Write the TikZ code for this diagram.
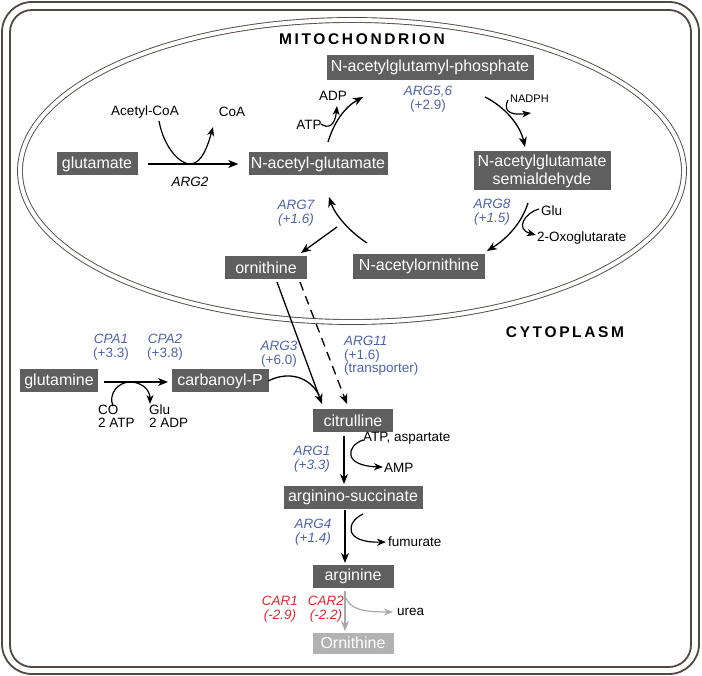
\documentclass[tikz,border=0pt]{standalone}
\usepackage{fontspec}
\setmainfont{Liberation Sans}
\usetikzlibrary{arrows.meta}
\definecolor{boxg}{HTML}{5F5F5F}
\definecolor{boxl}{HTML}{B2B2B2}
\definecolor{eblue}{HTML}{4D62AE}
\definecolor{ered}{HTML}{E5262F}
\definecolor{framec}{HTML}{524743}
\definecolor{lgray}{HTML}{A8A8A8}
\begin{document}
\begin{tikzpicture}[x=1pt,y=-1pt,
  box/.style={fill=boxg,text=white,font=\fontsize{16}{18}\selectfont,inner sep=0pt,minimum height=23,align=center},
  lbl/.style={font=\fontsize{13.5}{13}\selectfont,inner sep=0pt},
  enz/.style={font=\fontsize{13.5}{13.5}\selectfont,text=eblue,inner sep=0pt,align=center},
  renz/.style={font=\fontsize{13.5}{13.5}\selectfont\itshape,text=ered,inner sep=0pt,align=center},
  title/.style={font=\fontsize{15.5}{16}\selectfont\bfseries\addfontfeature{LetterSpace=17},inner sep=0pt},
  arr/.style={line width=1.3pt,-{Stealth[length=10pt,width=8pt,inset=3pt]}},
  sarr/.style={line width=1.2pt,-{Stealth[length=9pt,width=7pt,inset=2.7pt]}},
  memb/.style={draw=framec,line width=0.9pt},
]
\useasboundingbox (0,0) rectangle (702,676);
% cell frame
\draw[framec,line width=1.8pt,rounded corners=30] (2,2) rectangle (699,674);
\draw[framec,line width=1.8pt,rounded corners=22] (10,10) rectangle (691,667);
% mitochondrion
\draw[memb,double=white,double distance=4pt] (352,171) ellipse [x radius=332,y radius=151];

\node[title] (mito) at (362,39) {MITOCHONDRION};
\node[title] (cyto) at (565,332) {CYTOPLASM};

% boxes
\node[box,minimum width=207,minimum height=25] (nagp) at (430,67.5) {N-acetylglutamyl-phosphate};
\node[box,minimum width=81] (glu) at (97,164) {glutamate};
\node[box,minimum width=139] (nag) at (318,164) {N-acetyl-glutamate};
\node[box,minimum width=137,minimum height=39] (semi) at (542,171) {N-acetylglutamate\\semialdehyde};
\node[box,minimum width=132,minimum height=25] (naorn) at (419,266.5) {N-acetylornithine};
\node[box,minimum width=82] (orn) at (266,268) {ornithine};
\node[box,minimum width=78] (gln) at (59,381) {glutamine};
\node[box,minimum width=97] (cbp) at (220,381) {carbanoyl-P};
\node[box,minimum width=80] (cit) at (353,421) {citrulline};
\node[box,minimum width=139] (asuc) at (353,497) {arginino-succinate};
\node[box,minimum width=81] (arg) at (353,576) {arginine};
\node[box,fill=boxl,minimum width=81,minimum height=21] (orn2) at (353,643) {Ornithine};

% small labels
\node[lbl] (acoa) at (145,112) {Acetyl-CoA};
\node[lbl] (coa) at (232,112) {CoA};
\node[lbl,font=\fontsize{13.5}{13}\selectfont\itshape] (arg2) at (190,182) {ARG2};
\node[lbl] (atp1) at (309,125) {ATP};
\node[lbl] (adp1) at (333,96) {ADP};
\node[enz] (e56) at (428,99) {\textit{ARG5,6}\\(+2.9)};
\node[lbl,font=\fontsize{11}{11}\selectfont,anchor=west] (nadph) at (510,99) {NADPH};
\node[enz,font=\fontsize{13.5}{13.5}\selectfont\itshape] (e8) at (492,212) {ARG8\\(+1.5)};
\node[lbl,anchor=west] (glu2) at (541,211) {Glu};
\node[lbl,anchor=west] (oxo) at (537,238) {2-Oxoglutarate};
\node[enz,font=\fontsize{13.5}{13.5}\selectfont\itshape] (e7) at (296,213) {ARG7\\(+1.6)};
\node[enz] (cpa1) at (111,347) {\textit{CPA1}\\(+3.3)};
\node[enz] (cpa2) at (165,347) {\textit{CPA2}\\(+3.8)};
\node[enz] (e3) at (279,354) {\textit{ARG3}\\(+6.0)};
\node[enz,align=left,anchor=west] (e11) at (344,356) {\textit{ARG11}\\(+1.6)\\(transporter)};
\node[lbl,align=left,anchor=west] (co) at (98,416) {CO\\2 ATP};
\node[lbl,align=left,anchor=west] (glu3) at (149,416) {Glu\\2 ADP};
\node[lbl,anchor=west] (atpasp) at (363,438) {ATP, aspartate};
\node[lbl,anchor=west] (amp) at (384,468) {AMP};
\node[enz,font=\fontsize{13.5}{13.5}\selectfont\itshape] (e1) at (312,459) {ARG1\\(+3.3)};
\node[enz,font=\fontsize{13.5}{13.5}\selectfont\itshape] (e4) at (313,532) {ARG4\\(+1.4)};
\node[lbl,anchor=west] (fum) at (388,542) {fumurate};
\node[renz] (car1) at (280,609) {CAR1\\(-2.9)};
\node[renz] (car2) at (326,609) {CAR2\\(-2.2)};
\node[lbl,anchor=west] (urea) at (397,612) {urea};

% ARG2
\draw[arr] ([xshift=10]glu.east) -- ([xshift=-10]nag.west);
\draw[sarr] (159,121) .. controls (164,148) and (180,164) .. (190,164) .. controls (202,164) and (208,145) .. (213,127);
% ATP step
\draw[arr] (328,142) .. controls (334,122) and (345,107) .. (363,97);
\draw[sarr] (321,124) .. controls (328,129) and (335,126) .. (337,106);
% ARG5,6 (NADPH)
\draw[arr] (485,97) .. controls (505,107) and (520,125) .. (525,147);
\draw[sarr] (508,100) .. controls (504,108) and (506,116) .. (531,113);
% ARG8
\draw[arr] (528,203) .. controls (522,222) and (508,238) .. (487,251);
\draw[sarr] (539,209) .. controls (526,212) and (514,229) .. (536,235);
% ARG7
\draw[arr] (367,243) .. controls (350,232) and (335,215) .. (329,197);
\draw[arr] (337,227) -- (301,253);
% ornithine -> citrulline
\draw[arr] (277,282) -- (322,404);
\draw[arr,dash pattern=on 9pt off 6pt] (300,282) -- (347,404);
\draw[line width=1.3pt] (268,381) .. controls (290,370) and (310,378) .. (319,395);
% CPA
\draw[arr] (104,382) -- (168,382);
\draw[sarr] (113,406) .. controls (108,394) and (118,382) .. (130,382) .. controls (142,382) and (150,390) .. (150,404);
% ARG1
\draw[arr] (344,436) -- (344,484);
\draw[sarr] (363,440) .. controls (346,446) and (343,466) .. (383,467);
% ARG4
\draw[arr] (345,510) -- (345,563);
\draw[sarr] (363,514) .. controls (346,522) and (343,543) .. (386,542);
% CAR
\draw[arr,lgray] (345,591) -- (345,631);
\draw[sarr,lgray] (346,598) .. controls (350,608) and (360,612) .. (393,612);
\end{tikzpicture}
\end{document}
